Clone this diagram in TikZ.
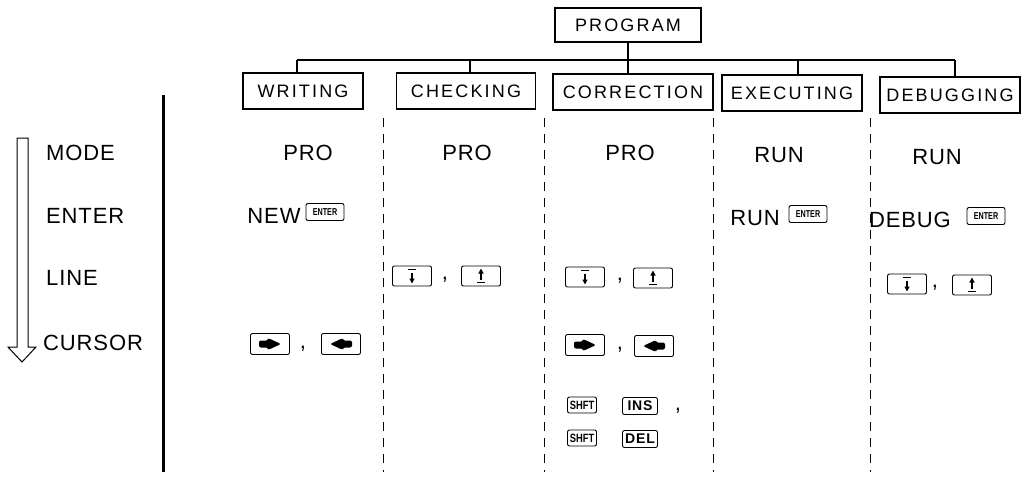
\documentclass[tikz,border=0pt]{standalone}
\usepackage{fontspec}
\setmainfont{Liberation Sans}
\newfontfamily\boxfont[LetterSpace=12]{Liberation Sans}
\newfontfamily\rowfont[LetterSpace=4]{Liberation Sans}
\newfontfamily\keyfont[LetterSpace=6]{Liberation Sans}
\usepackage{graphicx}
\usetikzlibrary{arrows.meta,calc}
\begin{document}
\begin{tikzpicture}[x=1pt,y=-1pt,
 every node/.style={inner sep=0pt},
 hdr/.style={draw, line width=1.2pt, minimum height=36pt, font=\boxfont\fontsize{18}{18}\selectfont},
 lbl/.style={font=\rowfont\fontsize{22}{22}\selectfont},
 sep/.style={line width=1pt, dash pattern=on 9pt off 7pt},
 conn/.style={line width=1.1pt},
 key/.style={draw, rounded corners=2pt, line width=0.9pt, minimum width=39pt, minimum height=20pt},
 kdown/.style={key, path picture={
   \coordinate (pc) at (path picture bounding box.center);
   \draw[line width=1.3pt] ($(pc)+(-4pt,6.5pt)$) -- ($(pc)+(4pt,6.5pt)$);
   \draw[line width=1.6pt, -{Triangle[length=5pt,width=5pt]}] ($(pc)+(0pt,3.5pt)$) -- ($(pc)+(0pt,-7.5pt)$);}},
 kup/.style={key, path picture={
   \coordinate (pc) at (path picture bounding box.center);
   \draw[line width=1.3pt] ($(pc)+(-4pt,-6.5pt)$) -- ($(pc)+(4pt,-6.5pt)$);
   \draw[line width=1.6pt, -{Triangle[length=5pt,width=5pt]}] ($(pc)+(0pt,-3.5pt)$) -- ($(pc)+(0pt,7.5pt)$);}},
 kright/.style={key, minimum height=21pt, path picture={
   \coordinate (pc) at (path picture bounding box.center);
   \fill ($(pc)+(-11pt,-3.5pt)$) -- ($(pc)+(-2pt,-3.5pt)$) -- ($(pc)+(-2pt,-6pt)$) -- ($(pc)+(11pt,0pt)$) -- ($(pc)+(-2pt,6pt)$) -- ($(pc)+(-2pt,3.5pt)$) -- ($(pc)+(-11pt,3.5pt)$) -- cycle;}},
 kleft/.style={key, minimum height=21pt, path picture={
   \coordinate (pc) at (path picture bounding box.center);
   \fill ($(pc)+(11pt,-3.5pt)$) -- ($(pc)+(2pt,-3.5pt)$) -- ($(pc)+(2pt,-6pt)$) -- ($(pc)+(-11pt,0pt)$) -- ($(pc)+(2pt,6pt)$) -- ($(pc)+(2pt,3.5pt)$) -- ($(pc)+(11pt,3.5pt)$) -- cycle;}},
 kenter/.style={draw, rounded corners=2pt, line width=0.9pt, minimum width=38pt, minimum height=17pt,
   font=\fontsize{10}{10}\selectfont\bfseries},
 ksmall/.style={draw, rounded corners=2pt, line width=0.9pt, minimum height=16pt, font=\fontsize{12}{12}\selectfont\bfseries},
 kbig/.style={draw, rounded corners=2pt, line width=0.9pt, minimum width=35pt, minimum height=17pt, font=\keyfont\fontsize{14}{14}\selectfont\bfseries}
]
\useasboundingbox (0,0) rectangle (1027,480);

% header boxes
\node[hdr, minimum width=146pt, minimum height=34pt] (program) at (628,25) {PROGRAM};
\node[hdr, minimum width=120pt] (writing) at (303,91) {WRITING};
\node[hdr, minimum width=139pt] (checking) at (466,91) {CHECKING};
\node[hdr, minimum width=160pt] (correction) at (633,92) {CORRECTION};
\node[hdr, minimum width=140pt] (executing) at (792,93) {EXECUTING};
\node[hdr, minimum width=140pt] (debugging) at (950,95) {DEBUGGING};

% tree connectors
\coordinate (busL) at (297,60);
\coordinate (busR) at (955,60);
\draw[conn] (busL) -- (busR);
\draw[conn] (program.south) -- (program.south |- busL);
\draw[conn] (writing.north -| busL) -- (busL);
\draw[conn] ([xshift=4pt]checking.north) -- ([xshift=4pt]checking.north |- busL);
\draw[conn] ([xshift=-5pt]correction.north) -- ([xshift=-5pt]correction.north |- busL);
\draw[conn] ([xshift=6pt]executing.north) -- ([xshift=6pt]executing.north |- busL);
\draw[conn] (debugging.north -| busR) -- (busR);

% column separators
\coordinate (s1t) at (383,118); \coordinate (s1b) at (383,472);
\coordinate (s2t) at (544,118); \coordinate (s2b) at (544,472);
\coordinate (s3t) at (713,118); \coordinate (s3b) at (713,472);
\coordinate (s4t) at (870,118); \coordinate (s4b) at (870,472);
\draw[sep] (s1t) -- (s1b);
\draw[sep] (s2t) -- (s2b);
\draw[sep] (s3t) -- (s3b);
\draw[sep] (s4t) -- (s4b);

% thick line
\coordinate (tt) at (163,95); \coordinate (tb) at (163,472);
\draw[line width=3pt] (tt) -- (tb);

% hollow arrow
\draw[line width=1pt, line join=miter] (17,138) -- (28,138) -- (28,347) -- (36,347) -- (22,362) -- (8,347) -- (17,347) -- cycle;

% row labels
\node[lbl, anchor=west] (lmode) at (46,153) {MODE};
\node[lbl, anchor=west] (lenter) at (46,216) {ENTER};
\node[lbl, anchor=west] (lline) at (46,278) {LINE};
\node[lbl, anchor=west] (lcursor) at (43,343) {CURSOR};

% MODE row
\node[lbl] (m1) at (308,153) {PRO};
\node[lbl] (m2) at (467,153) {PRO};
\node[lbl] (m3) at (630,153) {PRO};
\node[lbl] (m4) at (779,155) {RUN};
\node[lbl] (m5) at (937,157) {RUN};

% ENTER row
\node[lbl] (e1) at (274,216) {NEW};
\node[kenter] (e1k) at (325,212) {\scalebox{0.72}[1]{ENTER}};
\node[lbl] (e4) at (755,218) {RUN};
\node[kenter] (e4k) at (808,214) {\scalebox{0.72}[1]{ENTER}};
\node[lbl] (e5) at (910,220) {DEBUG};
\node[kenter] (e5k) at (986,216) {\scalebox{0.72}[1]{ENTER}};

% LINE row
\node[kdown] (l2a) at (412,276) {};
\node[lbl] (l2c) at (445,280) {,};
\node[kup] (l2b) at (481,276) {};
\node[kdown] (l3a) at (585,277) {};
\node[lbl] (l3c) at (620,281) {,};
\node[kup] (l3b) at (653,278) {};
\node[kdown] (l5a) at (907,284) {};
\node[lbl] (l5c) at (935,288) {,};
\node[kup] (l5b) at (972,285) {};

% CURSOR row
\node[kright] (c1a) at (270,344) {};
\node[lbl] (c1c) at (303,349) {,};
\node[kleft] (c1b) at (341,344) {};
\node[kright] (c3a) at (585,345) {};
\node[lbl] (c3c) at (620,350) {,};
\node[kleft] (c3b) at (654,346) {};

% insert / delete
\node[ksmall, minimum width=29pt] (sh1) at (582,405) {\scalebox{0.78}[1]{SHFT}};
\node[kbig] (ins) at (640,406) {INS};
\node[lbl] (ic) at (678,411) {,};
\node[ksmall, minimum width=29pt] (sh2) at (582,438) {\scalebox{0.78}[1]{SHFT}};
\node[kbig] (del) at (640,439) {DEL};
\end{tikzpicture}
\end{document}
